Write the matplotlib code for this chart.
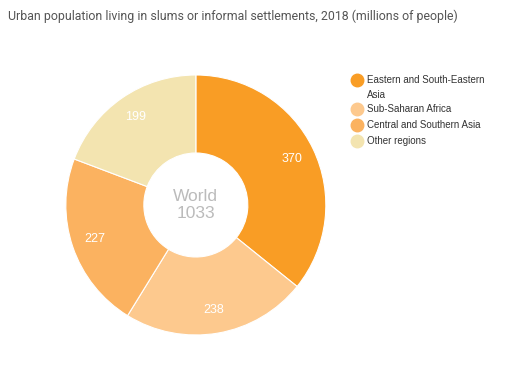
import matplotlib.pyplot as plt

regions = ["Eastern and South-Eastern\nAsia", "Sub-Saharan Africa",
           "Central and Southern Asia", "Other regions"]
values = [370, 238, 227, 199]
colors = ["#F99D25", "#FDC98E", "#FBB260", "#F3E4B0"]
total_label = "World\n1033"

W, H = 510, 368
fig = plt.figure(figsize=(W / 100, H / 100), dpi=100)
fig.text(0.016, 0.955, "Urban population living in slums or informal settlements, 2018 (millions of people)",
         fontsize=8.9, color="#555555", family="Roboto", va="center", ha="left")

ax = fig.add_axes([0.129, 0.0897, 0.51, 0.7065])
wedges, texts = ax.pie(values, colors=colors, startangle=90, counterclock=False,
                       labels=[str(v) for v in values], labeldistance=0.82,
                       wedgeprops=dict(width=0.6, edgecolor="white", linewidth=0.8),
                       textprops=dict(color="white", fontsize=9, family="Liberation Sans"))
for t in texts:
    t.set_ha("center")
    t.set_va("center")
ax.text(0, 0, total_label, ha="center", va="center", fontsize=12.5, color="#BBBBBB",
        family="Liberation Sans", linespacing=1.2)
ax.set_aspect("equal")
ax.set_xlim(-1, 1)
ax.set_ylim(-1, 1)

# legend drawn by hand so the marker sits on the first text line
y = 80
for name, c in zip(regions, colors):
    fy = 1 - y / H
    fig.lines.append(plt.Line2D([357 / W], [fy], marker="o", markersize=9, color=c,
                                linestyle="", transform=fig.transFigure))
    fig.text(367 / W, fy, name, fontsize=7, family="Liberation Sans", color="#333333",
             va="top", ha="left", linespacing=1.6,
             transform=fig.transFigure).set_y(fy + 5 / H)
    y += 16 + 13 * name.count("\n")

fig.savefig("out.png", dpi=100)
